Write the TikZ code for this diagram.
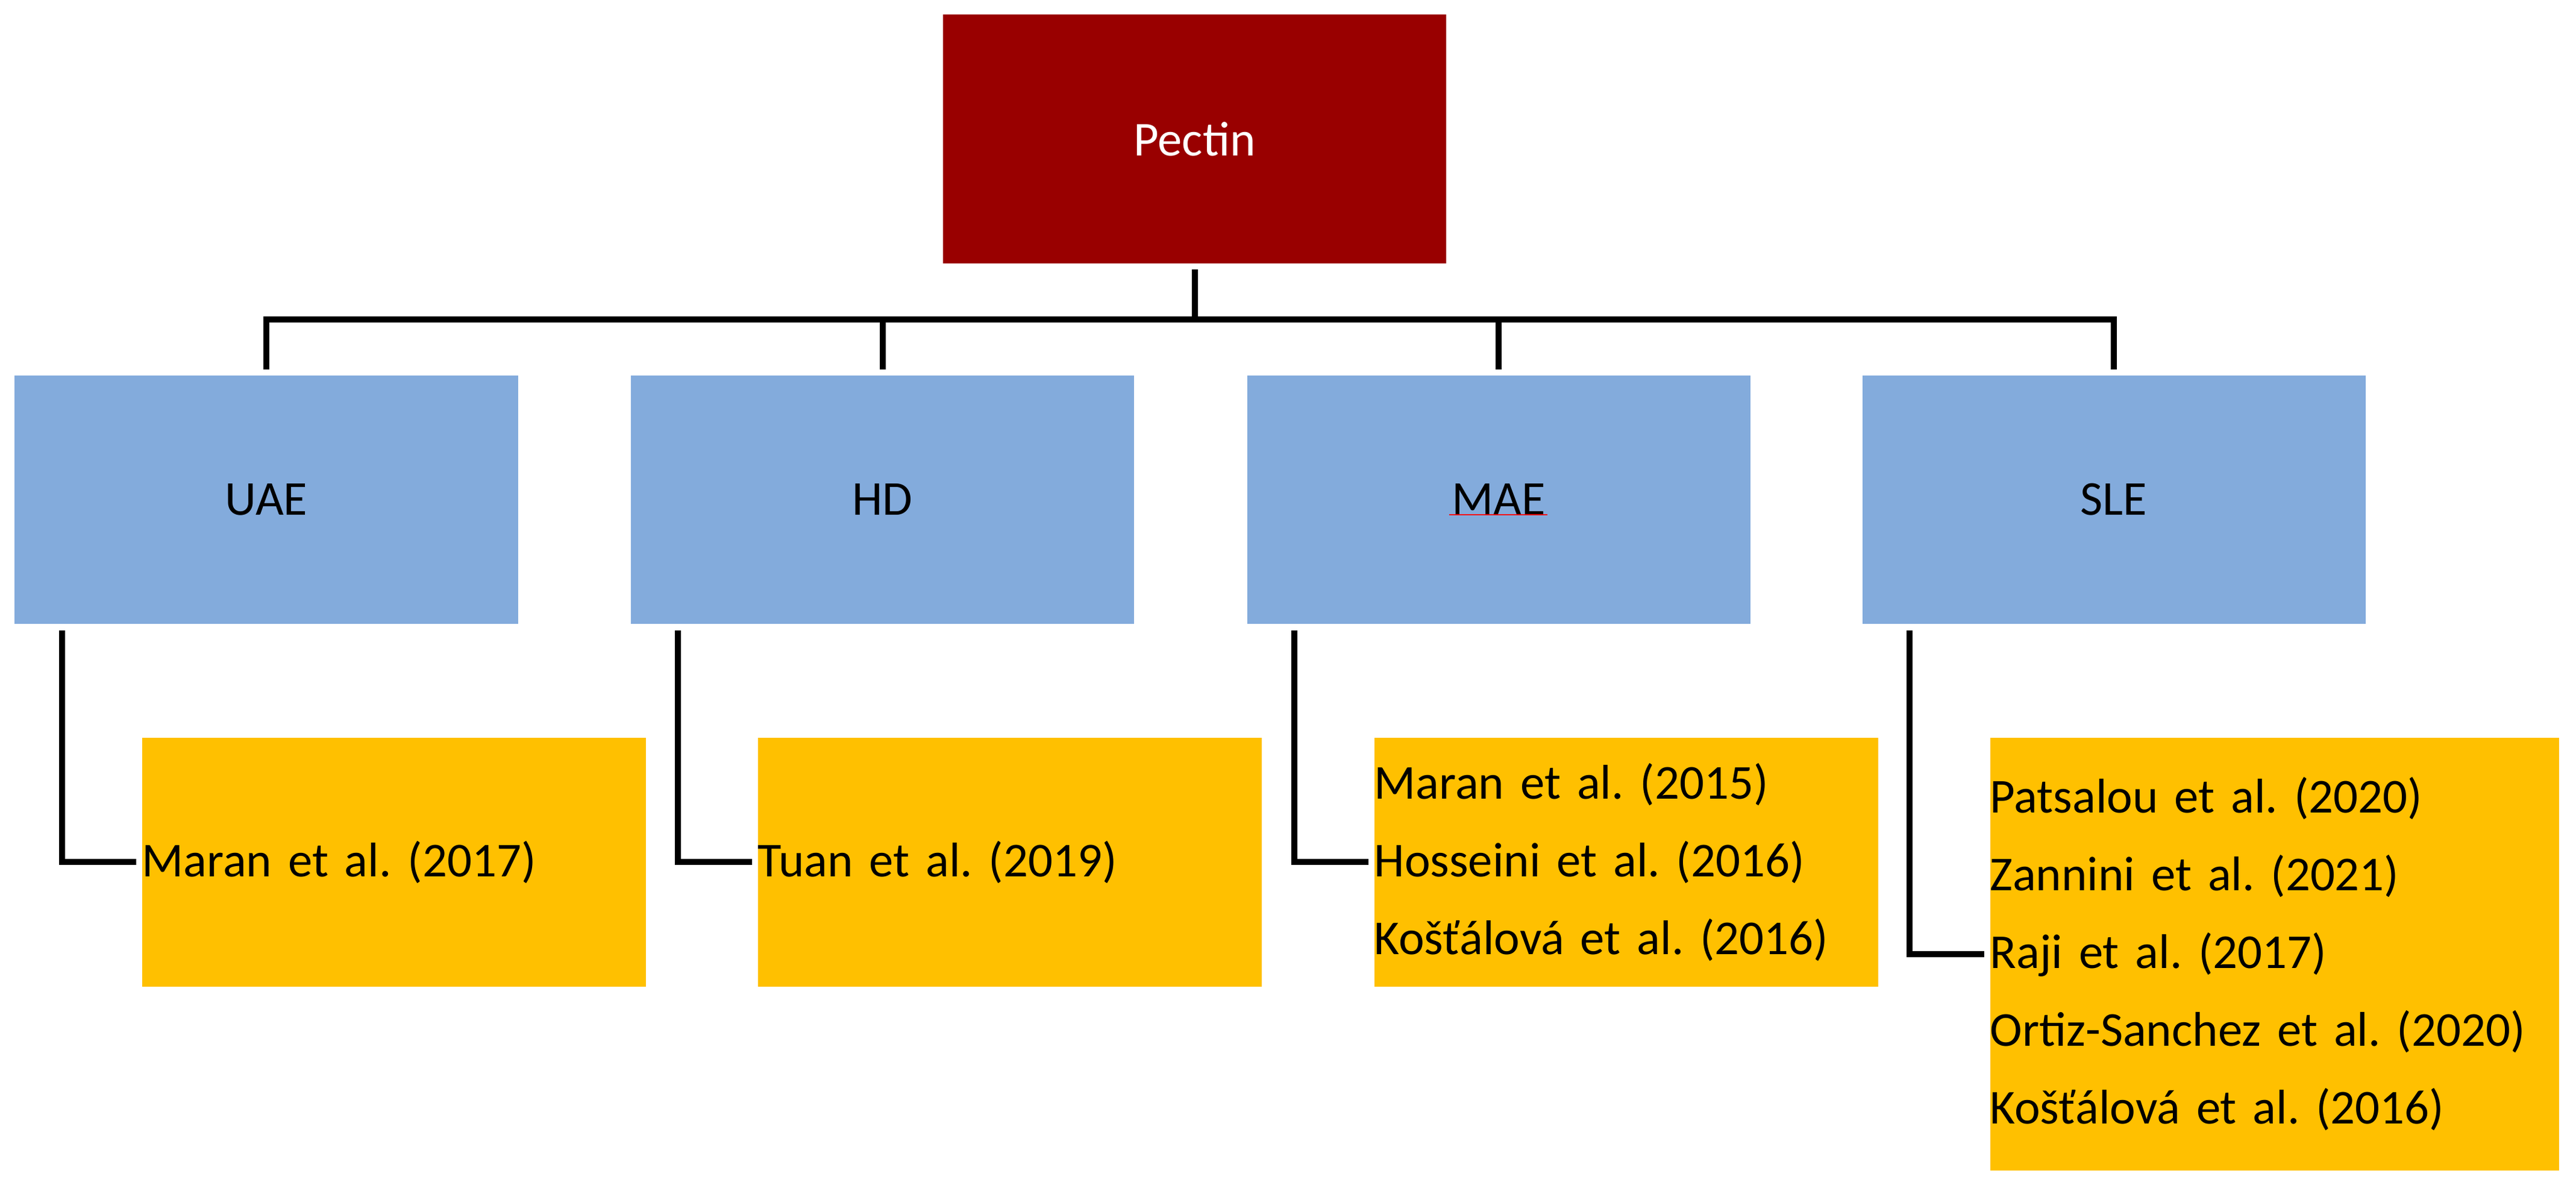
\documentclass[tikz,border=0pt]{standalone}
\usepackage{fontspec}
\setmainfont{Carlito}
\frenchspacing
\definecolor{pectred}{HTML}{990000}
\definecolor{methblue}{HTML}{83ABDC}
\definecolor{refyellow}{HTML}{FFC000}
\begin{document}
\begin{tikzpicture}[
  box/.style={rectangle, inner sep=0pt, draw=none, minimum width=8.35cm, minimum height=4.12cm,
              font=\fontsize{23}{36.7}\selectfont\frenchspacing},
  topbox/.style={box, fill=pectred, text=white},
  methbox/.style={box, fill=methblue, text=black},
  refbox/.style={box, fill=refyellow, text=black, anchor=north west, align=left,
                 text width=8.36cm, minimum width=8.36cm, minimum height=4.13cm},
  conn/.style={draw=black, line width=0.1cm},
]
\useasboundingbox (0,0) rectangle (42.75,19.65);

\node[topbox, minimum height=4.13cm] (pectin) at (19.825,17.345) {Pectin};

\node[methbox] (uae) at (4.42,11.36) {UAE};
\node[methbox] (hd)  at (14.645,11.36) {HD};
\node[methbox] (mae) at (24.87,11.36) {MAE};
\node[methbox] (sle) at (35.08,11.36) {SLE};

\node[refbox] (ruae) at (2.35,7.42) {Maran et al. (2017)};
\node[refbox] (rhd)  at (12.57,7.42) {Tuan et al. (2019)};
\node[refbox] (rmae) at (22.80,7.42) {Maran et al. (2015)\\Hosseini et al. (2016)\\Košťálová et al. (2016)};
\node[refbox, text width=9.44cm, minimum width=9.44cm, minimum height=7.18cm] (rsle) at (33.02,7.42)
  {Patsalou et al. (2020)\\Zannini et al. (2021)\\Raji et al. (2017)\\Ortiz-Sanchez et al. (2020)\\Košťálová et al. (2016)};

% spell-check underline under MAE
\coordinate (sqa) at (24.05,11.11);
\coordinate (sqb) at (25.68,11.11);
\draw[red, line width=0.02cm] (sqa) -- (sqb);

\coordinate (bus) at (19.825,14.35);

% tree connectors
\draw[conn, shorten <=0.09cm] (pectin.south) -- (pectin.south |- bus);
\draw[conn, shorten <=0.09cm, shorten >=0.09cm] (uae.north) -- (uae.north |- bus) -- (sle.north |- bus) -- (sle.north);
\draw[conn, shorten >=0.09cm] (hd.north |- bus) -- (hd.north);
\draw[conn, shorten >=0.09cm] (mae.north |- bus) -- (mae.north);

% method to references
\draw[conn, shorten <=0.1cm, shorten >=0.09cm] ([xshift=0.79cm]uae.south west) |- (ruae.west);
\draw[conn, shorten <=0.1cm, shorten >=0.09cm] ([xshift=0.79cm]hd.south west) |- (rhd.west);
\draw[conn, shorten <=0.1cm, shorten >=0.09cm] ([xshift=0.79cm]mae.south west) |- (rmae.west);
\draw[conn, shorten <=0.1cm, shorten >=0.09cm] ([xshift=0.79cm]sle.south west) |- (rsle.west);
\end{tikzpicture}
\end{document}
